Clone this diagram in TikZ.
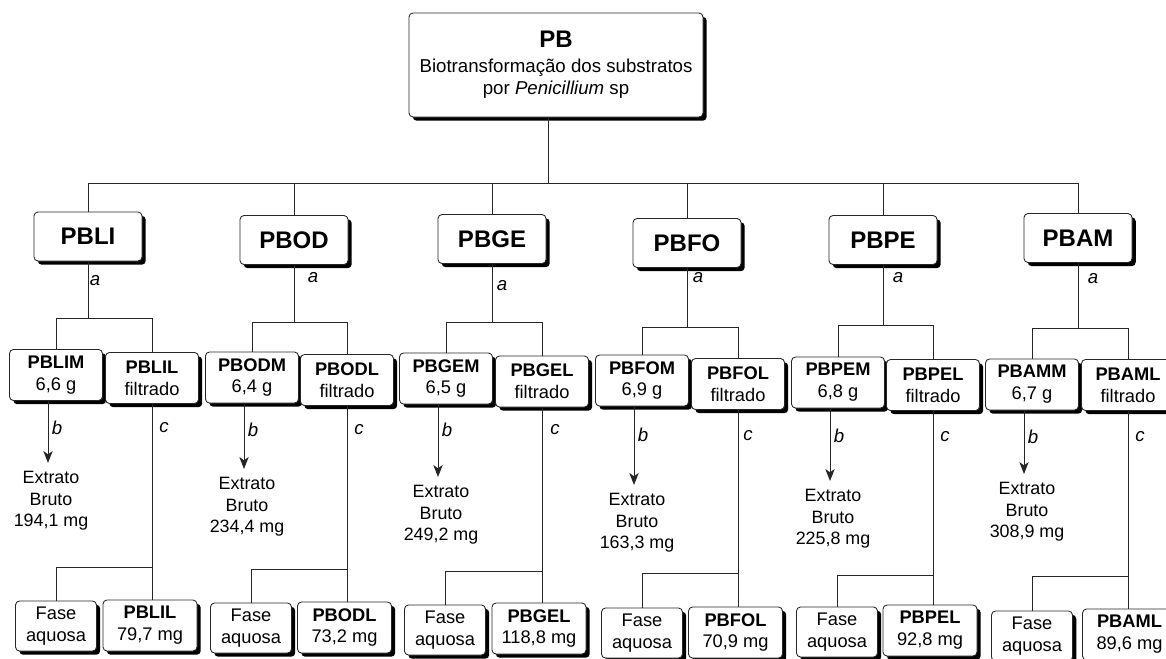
\documentclass[tikz,border=0pt]{standalone}
\usepackage{fontspec}
\setmainfont{Liberation Sans}
\usetikzlibrary{shadows,arrows.meta,calc}
\tikzset{
  bx/.style={draw=black!85, line width=0.65pt, rounded corners=3pt, fill=white, inner sep=0pt, align=center,
    drop shadow={shadow xshift=2.8pt, shadow yshift=-2.8pt, fill=black, opacity=1}},
  pbbox/.style={bx, minimum width=220.5pt, minimum height=78pt, font=\fontsize{14}{16.5}\selectfont},
  lvtwo/.style={bx, minimum width=81pt, minimum height=36.75pt, font=\fontsize{18}{21}\selectfont\bfseries},
  lvthree/.style={bx, minimum width=69.75pt, minimum height=38.25pt, font=\fontsize{13.7}{16.4}\selectfont},
  fase/.style={bx, minimum width=60.75pt, minimum height=37.5pt, font=\fontsize{13.7}{16.4}\selectfont},
  btm/.style={bx, minimum width=70.5pt, minimum height=38.25pt, font=\fontsize{13.7}{16.4}\selectfont},
  ext/.style={inner sep=0pt, align=center, anchor=north, font=\fontsize{13.4}{16.2}\selectfont},
  lab/.style={inner sep=0pt, font=\fontsize{14}{16}\selectfont\itshape},
  ln/.style={draw=black!85, line width=0.75pt},
  arr/.style={ln, -{Stealth[length=9pt,width=7pt,inset=2.5pt]}},
}
\begin{document}
\begin{tikzpicture}[x=0.75pt,y=-0.75pt]
\useasboundingbox (0,0) rectangle (1166,658);
\clip (0,0) rectangle (1166,658);

% ---------- top ----------
\node[pbbox] (PB) at (556,65) {{\fontsize{18}{20}\selectfont\bfseries PB}\\[2.5pt]Biotransformação dos substratos\\por \textit{Penicillium} sp};
\coordinate (topj) at (548,183);

% ---------- level 2 ----------
\node[lvtwo] (LI) at (88,236.5) {PBLI};
\node[lvtwo] (OD) at (294,240) {PBOD};
\node[lvtwo] (GE) at (492,239) {PBGE};
\node[lvtwo] (FO) at (687,243) {PBFO};
\node[lvtwo] (PE) at (883,240) {PBPE};
\node[lvtwo] (AM) at (1078,238) {PBAM};

\draw[ln] (PB.south -| topj) -- (topj);
\draw[ln] (LI.north) |- (AM.north |- topj) -- (AM.north);
\foreach \n in {OD,GE,FO,PE} { \draw[ln] (\n.north) -- (\n.north |- topj); }

% ---------- level 3 ----------
\node[lvthree] (LIM) at (56,375) {\textbf{PBLIM}\\6,6 g};
\node[lvthree] (LIL) at (152,378) {\textbf{PBLIL}\\filtrado};
\node[lvthree] (ODM) at (252,377.5) {\textbf{PBODM}\\6,4 g};
\node[lvthree] (ODL) at (347,380) {\textbf{PBODL}\\filtrado};
\node[lvthree] (GEM) at (446,378.5) {\textbf{PBGEM}\\6,5 g};
\node[lvthree] (GEL) at (542,381.5) {\textbf{PBGEL}\\filtrado};
\node[lvthree] (FOM) at (642,380.5) {\textbf{PBFOM}\\6,9 g};
\node[lvthree] (FOL) at (738,384) {\textbf{PBFOL}\\filtrado};
\node[lvthree] (PEM) at (838,382.5) {\textbf{PBPEM}\\6,8 g};
\node[lvthree] (PEL) at (933,385) {\textbf{PBPEL}\\filtrado};
\node[lvthree] (AMM) at (1032,384.5) {\textbf{PBAMM}\\6,7 g};
\node[lvthree] (AML) at (1128,385) {\textbf{PBAML}\\filtrado};

\coordinate (LIj) at (88,318);
\coordinate (ODj) at (294,322);
\coordinate (GEj) at (492,322);
\coordinate (FOj) at (687,327);
\coordinate (PEj) at (883,325);
\coordinate (AMj) at (1078,328);
\foreach \n in {LI,OD,GE,FO,PE,AM} {
  \draw[ln] (\n.south) -- (\n j);
  \draw[ln] (\n M.north) |- (\n j) -| (\n L.north);
}

\node[lab] (LIa) at (95,281) {a};
\node[lab] (ODa) at (313,278) {a};
\node[lab] (GEa) at (502,286) {a};
\node[lab] (FOa) at (698,278) {a};
\node[lab] (PEa) at (898,278) {a};
\node[lab] (AMa) at (1093,279) {a};

% ---------- extracts ----------
\coordinate (LIt) at (48,463);
\coordinate (ODt) at (244,469);
\coordinate (GEt) at (438,477);
\coordinate (FOt) at (634,485);
\coordinate (PEt) at (830,481);
\coordinate (AMt) at (1024,474);
\foreach \n in {LI,OD,GE,FO,PE,AM} { \draw[arr] (\n M.south -| \n t) -- (\n t); }

\node[ext] (LIE) at (51,471) {Extrato\\Bruto\\194,1 mg};
\node[ext] (ODE) at (247,477) {Extrato\\Bruto\\234,4 mg};
\node[ext] (GEE) at (441,485) {Extrato\\Bruto\\249,2 mg};
\node[ext] (FOE) at (637,493) {Extrato\\Bruto\\163,3 mg};
\node[ext] (PEE) at (833,489) {Extrato\\Bruto\\225,8 mg};
\node[ext] (AME) at (1027,482) {Extrato\\Bruto\\308,9 mg};

\node[lab] (LIb) at (57,428) {b};
\node[lab] (ODb) at (253,430) {b};
\node[lab] (GEb) at (447,430) {b};
\node[lab] (FOb) at (643,435) {b};
\node[lab] (PEb) at (839,436) {b};
\node[lab] (AMb) at (1033,437) {b};

\node[lab] (LIc) at (164,428) {c};
\node[lab] (ODc) at (359,430) {c};
\node[lab] (GEc) at (555,430) {c};
\node[lab] (FOc) at (748,436) {c};
\node[lab] (PEc) at (945,437) {c};
\node[lab] (AMc) at (1140,437) {c};

% ---------- bottom ----------
\node[fase] (LIF) at (56,626) {Fase\\aquosa};
\node[fase] (ODF) at (251,628) {Fase\\aquosa};
\node[fase] (GEF) at (445,630) {Fase\\aquosa};
\node[fase] (FOF) at (642,633) {Fase\\aquosa};
\node[fase] (PEF) at (837,632) {Fase\\aquosa};
\node[fase] (AMF) at (1032,636) {Fase\\aquosa};

\node[btm] (LIB) at (150,625.5) {\textbf{PBLIL}\\79,7 mg};
\node[btm] (ODB) at (344.5,627.5) {\textbf{PBODL}\\73,2 mg};
\node[btm] (GEB) at (539,628.5) {\textbf{PBGEL}\\118,8 mg};
\node[btm] (FOB) at (735.5,632.5) {\textbf{PBFOL}\\70,9 mg};
\node[btm] (PEB) at (930,630.5) {\textbf{PBPEL}\\92,8 mg};
\node[btm] (AMB) at (1129.5,634.5) {\textbf{PBAML}\\89,6 mg};

\coordinate (LIk) at (0,567);
\coordinate (ODk) at (0,569);
\coordinate (GEk) at (0,571);
\coordinate (FOk) at (0,573);
\coordinate (PEk) at (0,575);
\coordinate (AMk) at (0,576);
\foreach \n in {LI,OD,GE,FO,PE,AM} {
  \draw[ln] (\n L.south) -- (\n L.south |- \n B.north);
  \draw[ln] (\n F.north) |- (\n L.south |- \n k);
}
\end{tikzpicture}
\end{document}
